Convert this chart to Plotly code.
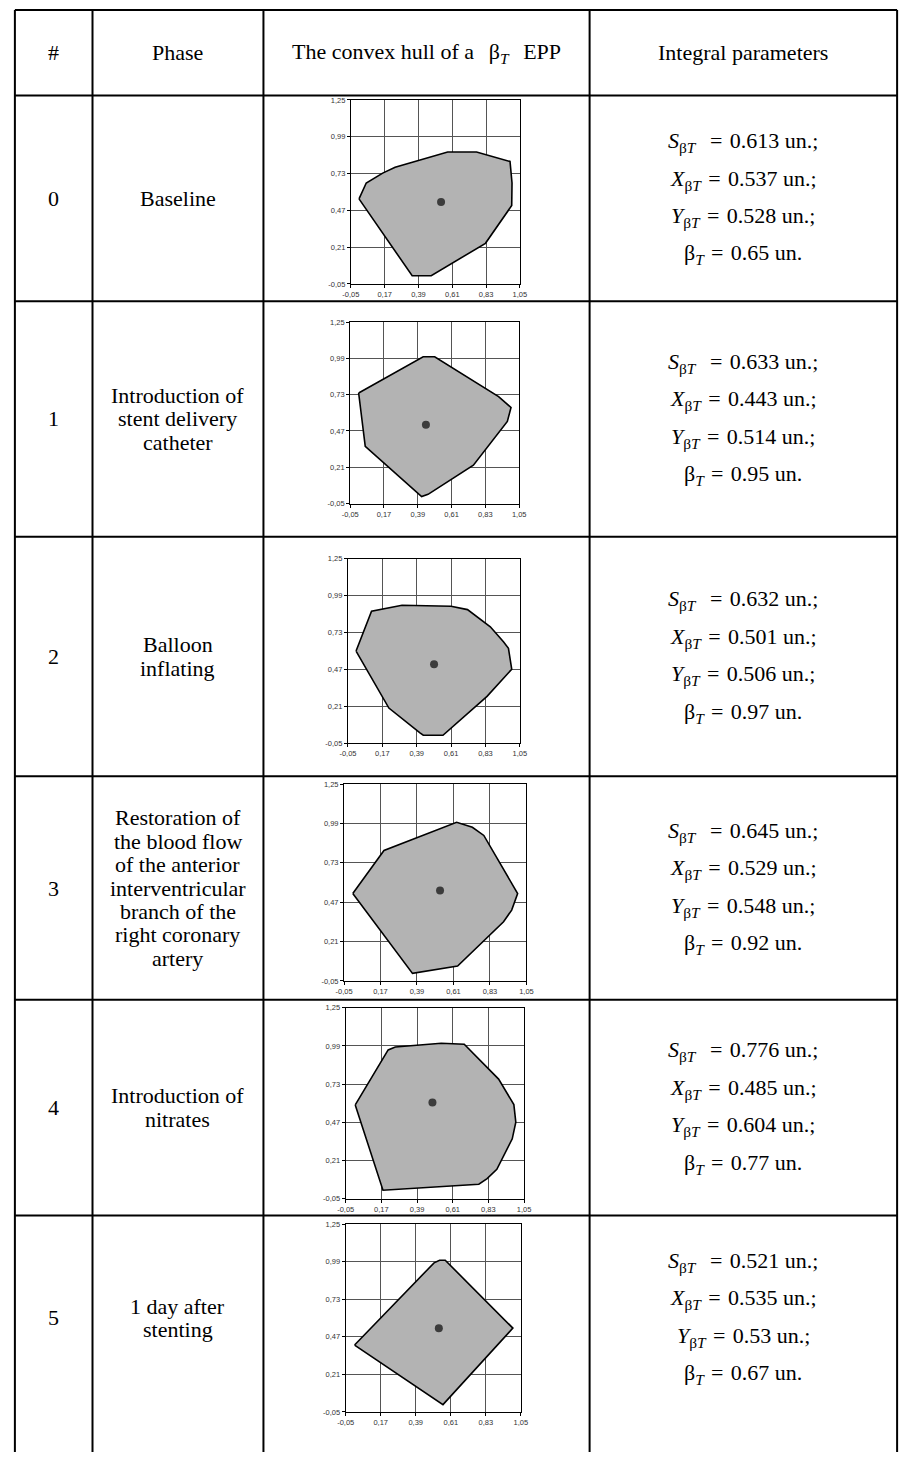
import plotly.graph_objects as go

W, H = 910, 1457

# ---- table content ----
ROW_NUMBERS = ["0", "1", "2", "3", "4", "5"]
PHASES = [
    ["Baseline"],
    ["Introduction of", "stent delivery", "catheter"],
    ["Balloon", "inflating"],
    ["Restoration of", "the blood flow", "of the anterior", "interventricular",
     "branch of the", "right coronary", "artery"],
    ["Introduction of", "nitrates"],
    ["1 day after", "stenting"],
]
S_VALUES = [0.613, 0.633, 0.632, 0.645, 0.776, 0.521]
X_VALUES = [0.537, 0.443, 0.501, 0.529, 0.485, 0.535]
Y_VALUES = [0.528, 0.514, 0.506, 0.548, 0.604, 0.53]
BETA_VALUES = [0.65, 0.95, 0.97, 0.92, 0.77, 0.67]

# ---- convex hull vertices of each phase ----
HULL0_X = [0.003, 0.050, 0.157, 0.238, 0.580, 0.768, 0.986, 0.999, 0.997, 0.826, 0.473, 0.349]
HULL0_Y = [0.551, 0.663, 0.733, 0.775, 0.882, 0.882, 0.815, 0.663, 0.504, 0.237, 0.008, 0.008]
HULL1_X = [0.005, 0.425, 0.500, 0.916, 0.997, 0.973, 0.752, 0.457, 0.415, 0.048]
HULL1_Y = [0.742, 1.001, 1.001, 0.716, 0.638, 0.538, 0.225, 0.016, 0.000, 0.360]
HULL2_X = [0.002, 0.101, 0.296, 0.610, 0.715, 0.861, 0.945, 0.977, 0.998, 0.840, 0.558, 0.432, 0.411, 0.212]
HULL2_Y = [0.600, 0.881, 0.923, 0.916, 0.892, 0.771, 0.666, 0.619, 0.472, 0.280, 0.006, 0.006, 0.023, 0.198]
HULL3_X = [0.003, 0.191, 0.629, 0.724, 0.793, 0.997, 0.961, 0.912, 0.635, 0.363]
HULL3_Y = [0.527, 0.812, 0.998, 0.965, 0.911, 0.527, 0.418, 0.341, 0.048, 0.000]
HULL4_X = [0.009, 0.212, 0.256, 0.539, 0.681, 0.893, 0.987, 0.999, 0.977, 0.882, 0.822, 0.771, 0.180]
HULL4_Y = [0.588, 0.963, 0.983, 1.008, 1.001, 0.764, 0.590, 0.470, 0.357, 0.149, 0.086, 0.048, 0.007]
HULL5_X = [0.006, 0.505, 0.540, 0.575, 1.000, 0.561]
HULL5_Y = [0.413, 0.982, 1.000, 1.000, 0.530, 0.001]

HULLS = [(HULL0_X, HULL0_Y), (HULL1_X, HULL1_Y), (HULL2_X, HULL2_Y),
         (HULL3_X, HULL3_Y), (HULL4_X, HULL4_Y), (HULL5_X, HULL5_Y)]

TICK_VALS_X = [-0.05, 0.17, 0.39, 0.61, 0.83, 1.05]
TICK_VALS_Y = [-0.05, 0.21, 0.47, 0.73, 0.99, 1.25]
TICK_TEXT_X = ["-0,05", "0,17", "0,39", "0,61", "0,83", "1,05"]
TICK_TEXT_Y = ["-0,05", "0,21", "0,47", "0,73", "0,99", "1,25"]

# ---- layout geometry (pixels) ----
COL_LINES = [6, 85, 259, 591, 904]
ROW_LINES = [6, 92, 299, 536, 777, 1002, 1219]
# plot boxes: left, right, top, bottom
PLOT_BOXES = [
    (348, 520, 96.5, 281.7),
    (347.3, 519.3, 320, 502.7),
    (345, 520, 558.3, 743.8),
    (341, 526.7, 785, 983),
    (342.7, 524.3, 1010, 1202),
    (342.7, 521, 1227.7, 1416.7),
]
ROW_CENTERS = [195.5, 417.5, 656.5, 889.5, 1110.5, 1322]

SERIF = "Liberation Serif, Times New Roman, serif"
SANS = "Liberation Sans, Arial, sans-serif"
TXT = 22
PARAM_TXT = 22
PHASE_STEP = 23.5
PARAM_STEP = 37.7
SP = "\u2004"  # slightly wider than a normal space, as in typeset formulas


def fx(px):
    return px / W


def fy(py):
    return 1 - py / H


fig = go.Figure()
annotations = []
shapes = []

# table grid
for x in COL_LINES:
    shapes.append(dict(type="line", xref="paper", yref="paper",
                       x0=fx(x), x1=fx(x), y0=fy(ROW_LINES[0]), y1=0,
                       line=dict(color="black", width=2)))
for y in ROW_LINES:
    shapes.append(dict(type="line", xref="paper", yref="paper",
                       x0=fx(COL_LINES[0]), x1=fx(COL_LINES[-1]), y0=fy(y), y1=fy(y),
                       line=dict(color="black", width=2)))


def add_text(text, x, y, size=TXT):
    annotations.append(dict(text=text, x=fx(x), y=fy(y), xref="paper", yref="paper",
                            xanchor="center", yanchor="middle", showarrow=False,
                            font=dict(family=SERIF, size=size, color="black")))


col_mid = [(COL_LINES[i] + COL_LINES[i + 1]) / 2 for i in range(4)]
header_mid = (ROW_LINES[0] + ROW_LINES[1]) / 2
add_text("#", col_mid[0], header_mid)
add_text("Phase", col_mid[1], header_mid)
add_text(f"The convex hull of a{SP}{SP}β<sub><i>T</i></sub>{SP}{SP}EPP", col_mid[2], header_mid)
add_text("Integral parameters", col_mid[3], header_mid)

for i in range(6):
    cy = ROW_CENTERS[i]
    add_text(ROW_NUMBERS[i], col_mid[0], cy)
    lines = PHASES[i]
    n = len(lines)
    for k, line in enumerate(lines):
        add_text(line, col_mid[1], cy + (k - (n - 1) / 2) * PHASE_STEP)
    params = [
        f"<i>S</i><sub>β<i>T</i></sub>{SP}{SP}={SP}{S_VALUES[i]} un.;",
        f"<i>X</i><sub>β<i>T</i></sub>{SP}={SP}{X_VALUES[i]} un.;",
        f"<i>Y</i><sub>β<i>T</i></sub>{SP}={SP}{Y_VALUES[i]} un.;",
        f"β<sub><i>T</i></sub>{SP}={SP}{BETA_VALUES[i]} un.",
    ]
    for k, p in enumerate(params):
        add_text(p, col_mid[3], cy + (k - 1.5) * PARAM_STEP, size=PARAM_TXT)

# hull charts
layout_axes = {}
for i, (hx, hy) in enumerate(HULLS):
    sfx = "" if i == 0 else str(i + 1)
    l, r, t, b = PLOT_BOXES[i]
    fig.add_trace(go.Scatter(
        x=hx + [hx[0]], y=hy + [hy[0]], mode="lines", fill="toself",
        fillcolor="#b3b3b3", line=dict(color="black", width=1.6),
        xaxis="x" + sfx, yaxis="y" + sfx, showlegend=False, hoverinfo="skip"))
    fig.add_trace(go.Scatter(
        x=[X_VALUES[i]], y=[Y_VALUES[i]], mode="markers",
        marker=dict(color="#3c3c3c", size=8),
        xaxis="x" + sfx, yaxis="y" + sfx, showlegend=False))
    common = dict(showline=True, linecolor="black", linewidth=1, mirror=True,
                  showgrid=True, gridcolor="#555555", gridwidth=1, zeroline=False,
                  ticks="outside", ticklen=3, tickcolor="black", tickwidth=1,
                  tickfont=dict(family=SANS, size=7.5, color="#333333"),
                  fixedrange=True)
    layout_axes["xaxis" + sfx] = dict(
        domain=[fx(l), fx(r)], anchor="y" + sfx, range=[-0.05, 1.05],
        tickmode="array", tickvals=TICK_VALS_X, ticktext=TICK_TEXT_X, **common)
    layout_axes["yaxis" + sfx] = dict(
        domain=[fy(b), fy(t)], anchor="x" + sfx, range=[-0.05, 1.25],
        tickmode="array", tickvals=TICK_VALS_Y, ticktext=TICK_TEXT_Y, **common)

fig.update_layout(
    width=W, height=H, autosize=False,
    margin=dict(l=0, r=0, t=0, b=0),
    paper_bgcolor="white", plot_bgcolor="white",
    annotations=annotations, shapes=shapes, showlegend=False,
    **layout_axes,
)

fig.write_html("out.html")
